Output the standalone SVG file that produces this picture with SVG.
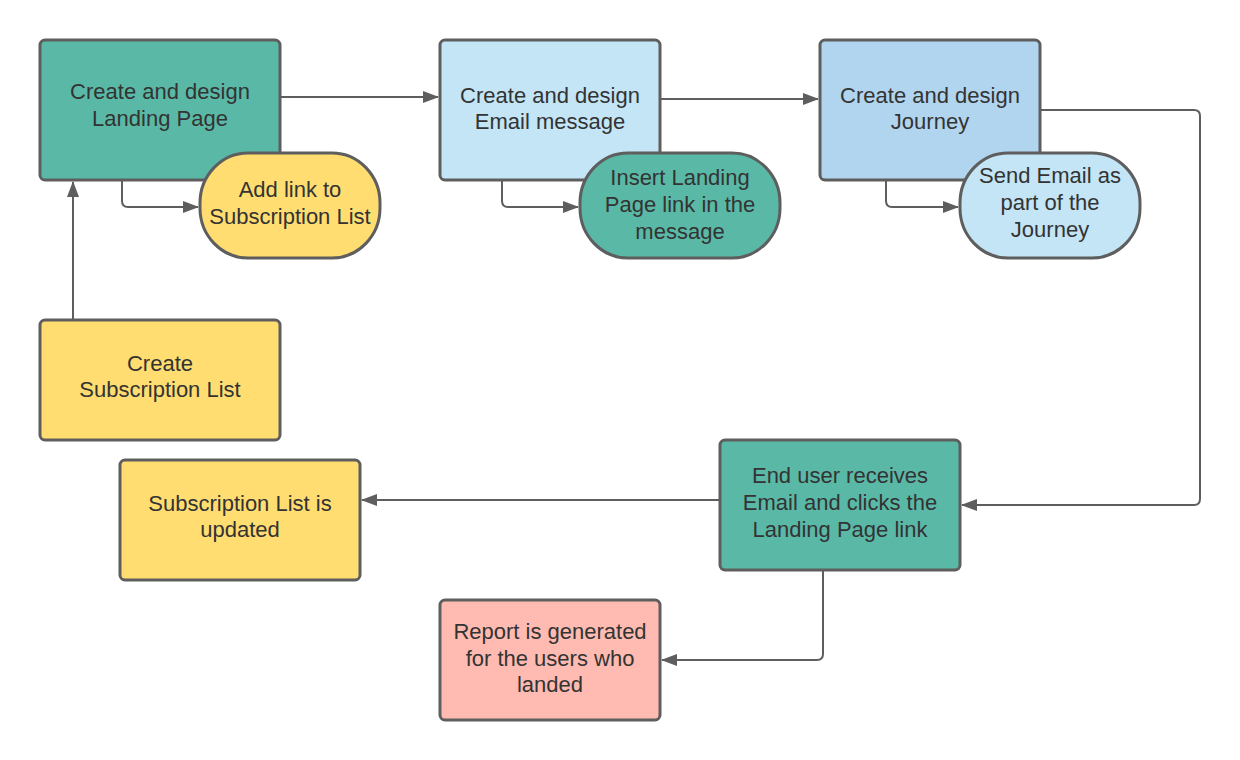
<svg xmlns="http://www.w3.org/2000/svg" width="1240" height="760" viewBox="0 0 1240 760">
<defs>
<marker id="ah" viewBox="0 0 16 12" refX="15" refY="6" markerWidth="16" markerHeight="12" markerUnits="userSpaceOnUse" orient="auto">
<path d="M0,0 L16,6 L0,12 Z" fill="#5e5e5e"/>
</marker>
</defs>
<style>
.box{stroke:#5e5e5e;stroke-width:3}
.teal{fill:#5ab9a6}
.yel{fill:#ffdd71}
.lb{fill:#c3e5f6}
.mb{fill:#b1d5ef}
.pink{fill:#ffbbb1}
.t{font-family:"Liberation Sans",Arial,sans-serif;font-size:22px;fill:#333333;text-anchor:middle}
.c{fill:none;stroke:#5e5e5e;stroke-width:2;marker-end:url(#ah)}
</style>
<rect width="1240" height="760" fill="#ffffff"/>
<g id="connectors">
<path class="c" d="M280,97 L438,97"/>
<path class="c" d="M660,99 L818,99"/>
<path class="c" d="M122,181 L122,201 Q122,207 128,207 L198,207"/>
<path class="c" d="M502,181 L502,201 Q502,207 508,207 L578,207"/>
<path class="c" d="M886,181 L886,201 Q886,207 892,207 L958,207"/>
<path class="c" d="M73,320 L73,182"/>
<path class="c" d="M1040,110 L1194,110 Q1200,110 1200,116 L1200,499 Q1200,505 1194,505 L962,505"/>
<path class="c" d="M720,500 L362,500"/>
<path class="c" d="M823,571 L823,654 Q823,660 817,660 L662,660"/>
</g>
<g id="landing">
<rect class="box teal" x="40" y="40" width="240" height="140" rx="5"/>
<text class="t" x="160" y="99">Create and design</text>
<text class="t" x="160" y="126">Landing Page</text>
</g>
<g id="addlink">
<rect class="box yel" x="200" y="153" width="180" height="105" rx="48" ry="50"/>
<text class="t" x="290" y="197">Add link to</text>
<text class="t" x="290" y="224">Subscription List</text>
</g>
<g id="email">
<rect class="box lb" x="440" y="40" width="220" height="140" rx="5"/>
<text class="t" x="550" y="103">Create and design</text>
<text class="t" x="550" y="129">Email message</text>
</g>
<g id="insert">
<rect class="box teal" x="580" y="153" width="200" height="105" rx="48" ry="50"/>
<text class="t" x="680" y="185">Insert Landing</text>
<text class="t" x="680" y="212">Page link in the</text>
<text class="t" x="680" y="239">message</text>
</g>
<g id="journey">
<rect class="box mb" x="820" y="40" width="220" height="140" rx="5"/>
<text class="t" x="930" y="103">Create and design</text>
<text class="t" x="930" y="129">Journey</text>
</g>
<g id="send">
<rect class="box lb" x="960" y="153" width="180" height="105" rx="48" ry="50"/>
<text class="t" x="1050" y="183">Send Email as</text>
<text class="t" x="1050" y="210">part of the</text>
<text class="t" x="1050" y="237">Journey</text>
</g>
<g id="createlist">
<rect class="box yel" x="40" y="320" width="240" height="120" rx="5"/>
<text class="t" x="160" y="371">Create</text>
<text class="t" x="160" y="397">Subscription List</text>
</g>
<g id="enduser">
<rect class="box teal" x="720" y="440" width="240" height="130" rx="5"/>
<text class="t" x="840" y="483">End user receives</text>
<text class="t" x="840" y="510">Email and clicks the</text>
<text class="t" x="840" y="537">Landing Page link</text>
</g>
<g id="updated">
<rect class="box yel" x="120" y="460" width="240" height="120" rx="5"/>
<text class="t" x="240" y="511">Subscription List is</text>
<text class="t" x="240" y="537">updated</text>
</g>
<g id="report">
<rect class="box pink" x="440" y="600" width="220" height="120" rx="5"/>
<text class="t" x="550" y="639">Report is generated</text>
<text class="t" x="550" y="666">for the users who</text>
<text class="t" x="550" y="692">landed</text>
</g>
</svg>
